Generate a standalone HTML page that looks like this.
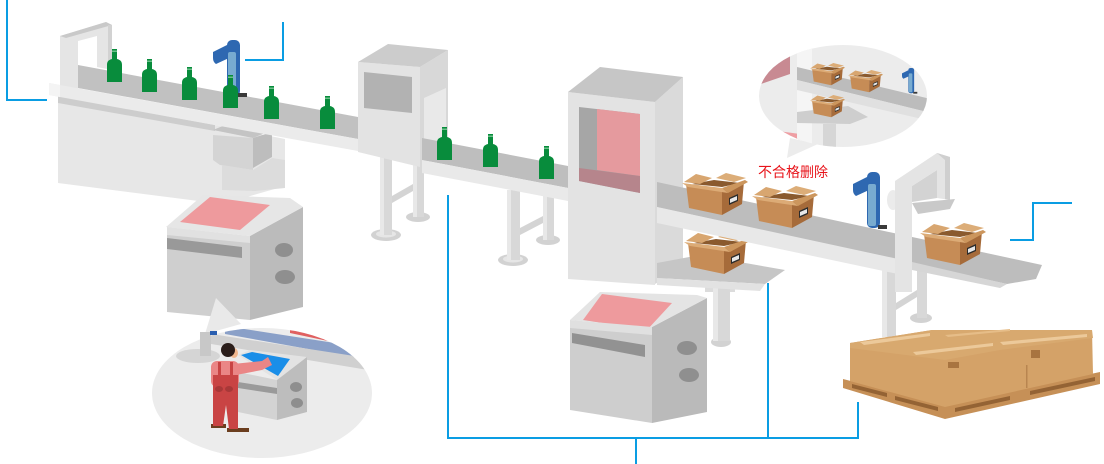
<!DOCTYPE html>
<html><head><meta charset="utf-8"><style>html,body{margin:0;padding:0;background:#fff;width:1104px;height:464px;overflow:hidden}svg{display:block}</style></head><body>
<svg width="1104" height="464" viewBox="0 0 1104 464" xmlns="http://www.w3.org/2000/svg">
<defs>
<g id="bt"><path d="M5 0H10V10C14 11 15 13 15 16V33H0V16C0 13 1 11 5 10Z" fill="#088c3c"/><rect x="5" y="1.5" width="5" height="1.5" fill="#6cc08a"/></g>
<g id="bx">
<polygon points="10,11 32,7 58,10 40,14" fill="#8a5a2e"/>
<polygon points="2,9 14,1 30,5 18,11" fill="#d8a670"/>
<polygon points="34,5 44,0 64,5 52,9" fill="#dcad78"/>
<polygon points="4,11 40,16 40,42 7,35" fill="#c68c56"/>
<polygon points="40,16 62,8 60,31 40,42" fill="#a66b3a"/>
<polygon points="0,10 40,15 46,20 6,14" fill="#dcab76"/>
<polygon points="40,15 63,7 66,9 46,20" fill="#cc965d"/>
<polygon points="47,25 56,21 56,28 47,32" fill="#2b2b2b"/>
<polygon points="48,26 55,23 55,27 48,30" fill="#e8e8e8"/>
</g>
<g id="rb">
<rect x="14" y="0" width="13" height="56" rx="5" fill="#2e68b1"/>
<path d="M0 12 L14 5 L16 18 L3 24 Q0 22 0 18Z" fill="#2e68b1"/>
<rect x="15" y="12" width="8" height="42" rx="2" fill="#78abd0"/>
<rect x="25" y="53" width="9" height="4" fill="#3a3a3a"/>
</g>
<clipPath id="cpOp"><ellipse cx="262" cy="393" rx="110" ry="65"/></clipPath>
<clipPath id="cpCo"><ellipse cx="843" cy="96" rx="84" ry="51"/></clipPath>
</defs>

<!-- left frame -->
<path d="M60 36 L106 22 L112 25 L112 70 L97 67 L97 36 L78 41 L78 98 L60 98Z" fill="#e5e5e5"/>
<path d="M60 36 L106 22 L112 25 L66 38Z" fill="#c9c9c9"/>
<rect x="108" y="25" width="4" height="45" fill="#d2d2d2"/>

<!-- legs left -->
<polygon points="392,196 413,184 413,191 392,203" fill="#d4d4d4"/>
<ellipse cx="386" cy="235" rx="15" ry="6" fill="#d2d2d2"/>
<ellipse cx="386" cy="234" rx="10" ry="3.5" fill="#e6e6e6"/>
<rect x="380" y="150" width="12" height="85" fill="#d8d8d8"/><rect x="380" y="150" width="4" height="85" fill="#e8e8e8"/>
<ellipse cx="418" cy="217" rx="12" ry="5" fill="#d2d2d2"/>
<rect x="413" y="155" width="11" height="62" fill="#d8d8d8"/><rect x="413" y="155" width="4" height="62" fill="#e8e8e8"/>
<!-- legs middle -->
<polygon points="520,228 543,216 543,223 520,235" fill="#d4d4d4"/>
<ellipse cx="513" cy="260" rx="15" ry="6" fill="#d2d2d2"/>
<ellipse cx="513" cy="259" rx="10" ry="3.5" fill="#e6e6e6"/>
<rect x="507" y="190" width="13" height="70" fill="#d8d8d8"/><rect x="507" y="190" width="4" height="70" fill="#e8e8e8"/>
<ellipse cx="548" cy="240" rx="12" ry="5" fill="#d2d2d2"/>
<rect x="543" y="195" width="11" height="45" fill="#d8d8d8"/><rect x="543" y="195" width="4" height="45" fill="#e8e8e8"/>

<!-- left body -->
<polygon points="58,96 220,126 285,139 285,186 222,204 58,183" fill="#e7e7e7"/>
<polygon points="58,96 215,125 215,131 58,103" fill="#cdcdcd"/>
<polygon points="213,130 230,123 272,130 253,138" fill="#c4c4c4"/>
<polygon points="213,135 253,138 253,170 220,165 213,160" fill="#d4d4d4"/>
<polygon points="253,138 272,132 272,157 253,168" fill="#bdbdbd"/>
<polygon points="222,165 253,170 272,158 285,160 285,188 255,191 222,190" fill="#dcdcdc"/>

<!-- left belt -->
<polygon points="78,65 358,117 358,139 78,88" fill="#c1c1c1"/>
<polygon points="49,83 358,139 358,151 49,95" fill="#ebebeb"/>
<polygon points="49,83 60,85 60,97 49,95" fill="#f4f4f4"/>

<!-- robot left + bottles -->
<use href="#rb" transform="translate(213,40)"/>
<use href="#bt" transform="translate(107,49)"/>
<use href="#bt" transform="translate(142,59)"/>
<use href="#bt" transform="translate(182,67)"/>
<use href="#bt" transform="translate(223,75)"/>
<use href="#bt" transform="translate(264,86)"/>
<use href="#bt" transform="translate(320,96)"/>

<!-- small machine -->
<polygon points="420,67 448,50 448,145 420,167" fill="#d8d8d8"/>
<polygon points="424,98 446,88 446,140 424,150" fill="#e9e9e9"/>
<polygon points="358,62 420,67 420,167 358,152" fill="#e3e3e3"/>
<polygon points="358,62 388,44 448,50 420,67" fill="#cccccc"/>
<polygon points="364,72 412,77 412,113 364,108" fill="#b2b2b2"/>

<!-- middle belt -->
<polygon points="422,138 568,166 568,188 422,160" fill="#bebebe"/>
<polygon points="422,160 568,188 568,201 422,173" fill="#e9e9e9"/>
<use href="#bt" transform="translate(437,127)"/>
<use href="#bt" transform="translate(483,134)"/>
<use href="#bt" transform="translate(539,146)"/>

<!-- big machine -->
<polygon points="655,102 683,77 683,268 655,284" fill="#dadada"/>
<polygon points="568,92 655,102 655,285 568,279" fill="#e3e3e3"/>
<polygon points="568,92 600,67 683,77 655,102" fill="#c6c6c6"/>
<polygon points="579,107 640,114 640,193 579,181" fill="#a6a6a6"/>
<polygon points="597,109 640,114 640,176 597,170" fill="#e59a9e"/>
<polygon points="579,168 640,176 640,193 579,181" fill="#b6858c"/>

<!-- tray post & right legs -->
<rect x="705" y="283" width="30" height="9" fill="#dcdcdc"/>
<ellipse cx="721" cy="342" rx="10" ry="5" fill="#d2d2d2"/>
<rect x="713" y="283" width="17" height="58" fill="#d8d8d8"/><rect x="713" y="283" width="5" height="58" fill="#e8e8e8"/>
<polygon points="896,303 917,290 917,297 896,310" fill="#d4d4d4"/>
<rect x="882" y="265" width="14" height="72" fill="#d8d8d8"/><rect x="882" y="265" width="5" height="72" fill="#e8e8e8"/>
<ellipse cx="921" cy="318" rx="11" ry="5" fill="#d2d2d2"/>
<rect x="917" y="270" width="10" height="48" fill="#d8d8d8"/>

<!-- lower tray -->
<polygon points="657,263 700,255 785,270 765,284 657,278" fill="#c6c6c6"/>
<polygon points="657,278 765,284 760,291 657,285" fill="#e2e2e2"/>
<use href="#bx" transform="translate(684,232)"/>

<!-- right belt -->
<polygon points="657,182 1042,265 1036,279 1007,284 657,207" fill="#bdbdbd"/>
<polygon points="657,207 912,262 912,277 657,223" fill="#e8e8e8"/>
<polygon points="912,262 1007,284 1000,288 912,270" fill="#d6d6d6"/>
<use href="#bx" transform="translate(682,173)"/>
<use href="#bx" transform="translate(752,186)"/>
<use href="#rb" transform="translate(853,172)"/>

<!-- gantry -->
<ellipse cx="893" cy="200" rx="6" ry="10" fill="#ebebeb"/>
<polygon points="912,186 937,170 937,198 912,202" fill="#d3d3d3"/>
<path d="M895 181 L937 153 L950 157 L950 200 L937 198 L937 170 L912 186 L912 292 L895 292Z" fill="#e4e4e4"/>
<polygon points="937,153 950,157 950,200 945,199 945,160" fill="#cfcfcf"/>
<polygon points="912,203 955,199 950,209 918,214" fill="#c9c9c9"/>
<use href="#bx" transform="translate(920,223)"/>

<!-- left cabinet -->
<polygon points="167,228 250,238 250,320 167,312" fill="#cfcfcf"/>
<polygon points="250,236 303,207 303,307 250,320" fill="#bbbbbb"/>
<polygon points="166,227 203,195 290,198 303,207 250,236" fill="#e6e6e6"/>
<polygon points="180,222 210,197 270,205 240,230" fill="#ee9a9d"/>
<polygon points="167,227 250,236 250,243 167,235" fill="#e1e1e1"/>
<polygon points="167,238 242,247 242,258 167,249" fill="#999999"/>
<ellipse cx="284" cy="250" rx="9" ry="7" fill="#8f8f8f"/>
<ellipse cx="285" cy="277" rx="10" ry="7" fill="#8f8f8f"/>

<!-- center cabinet -->
<polygon points="570,322 652,330 652,423 570,410" fill="#cecece"/>
<polygon points="652,327 707,298 707,412 652,423" fill="#bababa"/>
<polygon points="570,320 600,292 697,295 707,298 652,327" fill="#e4e4e4"/>
<polygon points="583,320 602,294 672,303 647,330" fill="#ee9a9d"/>
<polygon points="570,320 652,327 652,335 570,328" fill="#e0e0e0"/>
<polygon points="572,333 645,345 645,357 572,343" fill="#929292"/>
<ellipse cx="687" cy="348" rx="10" ry="7" fill="#8f8f8f"/>
<ellipse cx="689" cy="375" rx="10" ry="7" fill="#8f8f8f"/>

<!-- operator scene -->
<ellipse cx="262" cy="393" rx="110" ry="65" fill="#ececec"/>
<polygon points="205,334 216,298 241,324" fill="#e9e9e9"/>
<g clip-path="url(#cpOp)">
<polygon points="290,322 380,338 380,352 290,333" fill="#e06060"/>
<polygon points="225,326 380,350 380,362 225,334" fill="#8aa0c8"/>
<polygon points="205,333 380,360 380,372 205,343" fill="#d0d0d0"/>
</g>
<ellipse cx="198" cy="356" rx="22" ry="7" fill="#d5d5d5"/>
<rect x="200" y="332" width="11" height="24" fill="#c8c8c8"/>
<rect x="210" y="331" width="7" height="4" fill="#2a5fb0"/>
<polygon points="238,355 250,350 307,357 277,380" fill="#e3e3e3"/>
<polygon points="241,355 252,352 290,359 278,376" fill="#1a8ee8"/>
<polygon points="238,372 277,380 277,420 238,412" fill="#d3d3d3"/>
<polygon points="277,380 307,357 307,412 277,420" fill="#bdbdbd"/>
<polygon points="238,382 277,388 277,394 238,388" fill="#9a9a9a"/>
<ellipse cx="296" cy="387" rx="6" ry="5" fill="#8e8e8e"/>
<ellipse cx="297" cy="403" rx="6" ry="5" fill="#8e8e8e"/>
<!-- person -->
<rect x="211" y="424" width="15" height="4" fill="#6b3e1f"/>
<rect x="227" y="428" width="22" height="4" fill="#6b3e1f"/>
<polygon points="213,385 238,385 238,429 229,429 226,405 223,426 213,426" fill="#c94444"/>
<polygon points="233,364 262,361 268,357 272,365 262,370 236,375" fill="#ea8686"/>
<rect x="211" y="361" width="28" height="26" rx="6" fill="#ea8686"/>
<rect x="213" y="375" width="25" height="14" fill="#c94444"/>
<rect x="218" y="362" width="3" height="15" fill="#c94444"/>
<rect x="230" y="362" width="3" height="15" fill="#c94444"/>
<ellipse cx="219" cy="389" rx="4" ry="3" fill="#a83838"/>
<ellipse cx="229" cy="389" rx="4" ry="3" fill="#a83838"/>
<ellipse cx="234" cy="353" rx="4" ry="5" fill="#f0b890"/>
<circle cx="228" cy="350" r="7" fill="#2a1d1a"/>

<!-- callout -->
<polygon points="787,158 790,138 818,144" fill="#ececec"/>
<ellipse cx="843" cy="96" rx="84" ry="51" fill="#ececec"/>
<g clip-path="url(#cpCo)">
<polygon points="755,68 790,56 790,74 755,86" fill="#c88a92"/>
<polygon points="755,128 800,134 800,150 755,150" fill="#ee9ea3"/>
<rect x="797" y="40" width="15" height="110" fill="#f5f5f5"/>
<polygon points="797,67 935,100 935,114 797,80" fill="#bcbcbc"/>
<polygon points="797,80 935,114 935,122 797,90" fill="#e0e0e0"/>
<polygon points="797,112 848,106 868,117 850,124 797,123" fill="#cecece"/>
<rect x="823" y="124" width="13" height="26" fill="#d6d6d6"/>
<use href="#bx" transform="translate(810,63) scale(0.53)"/>
<use href="#bx" transform="translate(848,70) scale(0.53)"/>
<use href="#bx" transform="translate(810,95) scale(0.53)"/>
<use href="#rb" transform="translate(902,68) scale(0.45)"/>
</g>

<!-- pallet -->
<polygon points="843,379 945,405 1100,372 1100,384 945,419 843,388" fill="#c69057"/>
<polygon points="852,384 887,393 887,397 852,388" fill="#946334"/>
<polygon points="895,396 938,407 938,411 895,400" fill="#946334"/>
<polygon points="955,408 1010,396 1010,400 955,412" fill="#946334"/>
<polygon points="1030,391 1095,377 1095,381 1030,395" fill="#946334"/>
<polygon points="850,343 932,330 1092,330 1093,374 945,407 850,381" fill="#d4a268"/>
<polygon points="850,343 932,330 1092,330 1093,338 1000,350 945,360 850,348" fill="#d8a96f"/>
<polygon points="860,342 930,333 930,336 864,345" fill="#ecc99a"/>
<polygon points="913,352 993,343 993,346 916,355" fill="#ecc99a"/>
<polygon points="1000,342 1087,334 1087,337 1003,345" fill="#ecc99a"/>
<polygon points="945,335 1010,329 1010,331 948,337" fill="#e6bd88"/>
<rect x="1026" y="365" width="1.5" height="23" fill="#b88550"/>
<rect x="948" y="362" width="11" height="6" fill="#a87440"/>
<rect x="1031" y="350" width="9" height="8" fill="#a87440"/>

<!-- text -->
<text x="758" y="177" font-family="'Liberation Sans','Noto Sans CJK SC',sans-serif" font-size="14" fill="#e8141b">不合格删除</text>

<!-- blue lines -->
<g fill="none" stroke="#0a9de3" stroke-width="2">
<polyline points="7,0 7,100 47,100"/>
<polyline points="245,60 283,60 283,22"/>
<polyline points="448,195 448,438 858,438 858,402"/>
<line x1="768" y1="283" x2="768" y2="438"/>
<line x1="636" y1="438" x2="636" y2="464"/>
<polyline points="1010,240 1033,240 1033,203 1072,203"/>
</g>
</svg>
</body></html>
